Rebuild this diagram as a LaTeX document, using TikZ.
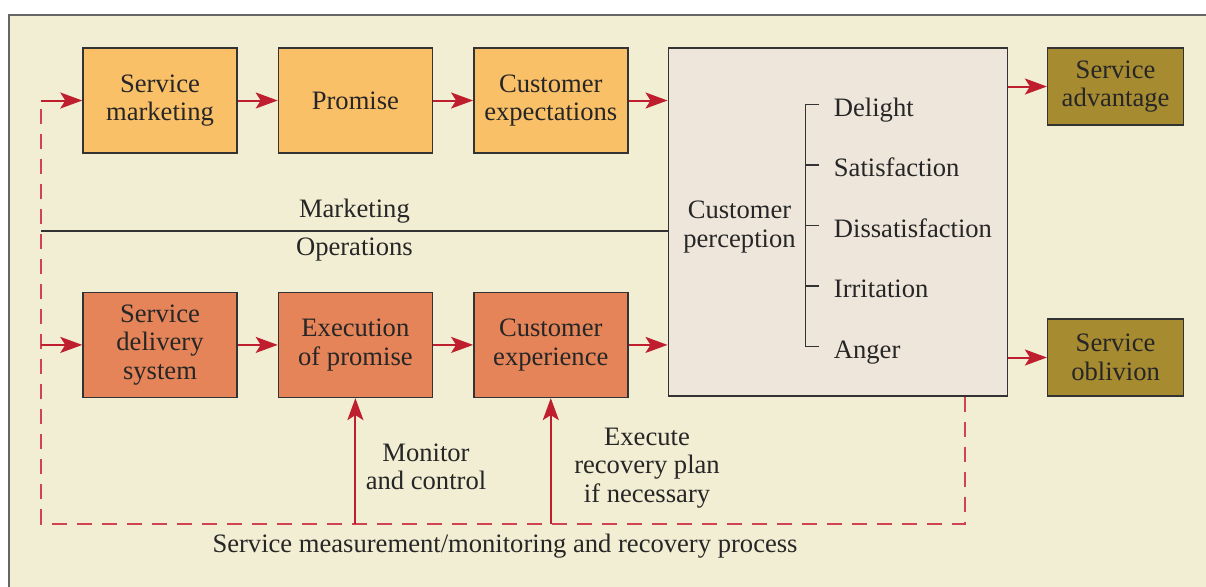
\documentclass[tikz,border=0pt]{standalone}
\usepackage{fontspec}
\setmainfont{Liberation Serif}
\usetikzlibrary{arrows.meta,positioning,calc}
\definecolor{SMCream}{HTML}{F2EED3}
\definecolor{SMFrame}{HTML}{666666}
\definecolor{SMEdge}{HTML}{333333}
\definecolor{SMAmber}{HTML}{FAC068}
\definecolor{SMCoral}{HTML}{E48458}
\definecolor{SMLinen}{HTML}{EEE6DA}
\definecolor{SMOlive}{HTML}{A68B30}
\definecolor{SMRed}{HTML}{BE1E2D}
\definecolor{SMDash}{HTML}{CF4450}

\begin{document}
\begin{tikzpicture}[
  x=0.5pt,y=-0.5pt,
  node distance=69pt and 20pt,
  font=\fontsize{13.3}{14.2}\selectfont,
  every node/.style={align=center,text=black!85},
  stage/.style={draw=SMEdge,line width=0.7pt,minimum width=77pt,
    minimum height=52.5pt,inner sep=2pt},
  front/.style={stage,fill=SMAmber},
  back/.style={stage,fill=SMCoral},
  result/.style={stage,fill=SMOlive,minimum width=68pt,minimum height=38.5pt},
  feel/.style={anchor=west,inner xsep=0pt,text height=15pt,text depth=3pt},
  rack/.style={draw=SMEdge,line width=0.7pt},
  flow/.style={-{Stealth[length=11pt,width=8pt,inset=2.5pt]},line width=1pt,SMRed},
  loop/.style={dash pattern=on 7.5pt off 5pt,line width=1pt,SMDash}
]
\fill[white] (0,0) rectangle (1206,586);
\useasboundingbox (0,0) rectangle (1206,586);
\draw[fill=SMCream,draw=SMFrame,line width=1pt] (9,15) rectangle (1230,610);

\node[front] (mkt) at (160,100.5) {Service\\marketing};
\node[front,right=of mkt] (prom) {Promise};
\node[front,right=of prom] (exp) {Customer\\expectations};
\node[back,below=of mkt] (dlv) {Service\\delivery\\system};
\node[back,right=of dlv] (exec) {Execution\\of promise};
\node[back,right=of exec] (live) {Customer\\experience};

\node[draw=SMEdge,line width=0.7pt,fill=SMLinen,minimum width=169.5pt,
  minimum height=174pt,right=19.5pt of exp.north east,anchor=north west] (perc) {};
\node (cpt) at ([xshift=36pt,yshift=-2.5pt]perc.west) {Customer\\perception};
\foreach \f [count=\i] in {Delight,Satisfaction,Dissatisfaction,Irritation,Anger}
  \node[feel] (f\i) at ([xshift=83pt,yshift={-28.5pt-(\i-1)*30.25pt}]perc.north west) {\f};
\draw[rack] ([xshift=-7.5pt]f1.west) -| ([xshift=-14pt]f5.west)
  -- ([xshift=-7.5pt]f5.west);
\foreach \i in {2,3,4}
  \draw[rack] ([xshift=-14pt]f\i.west) -- ([xshift=-7.5pt]f\i.west);

\node[result,right=19.5pt of perc.north east,anchor=north west] (adv) {Service\\advantage};
\node[result,right=19.5pt of perc.south east,anchor=south west] (obl) {Service\\oblivion};

% forward flow
\draw[flow] (mkt) -- (prom);
\draw[flow] (prom) -- (exp);
\draw[flow] (exp) -- (exp -| perc.west);
\draw[flow] (dlv) -- (exec);
\draw[flow] (exec) -- (live);
\draw[flow] (live) -- (live -| perc.west);
\draw[flow] (perc.east |- adv) -- (adv);
\draw[flow] (perc.east |- obl) -- (obl);

% marketing / operations split
\coordinate (inA) at ([xshift=-20.5pt]mkt.west);
\coordinate (inB) at (inA |- dlv);
\coordinate (split) at ($(mkt.south)!0.56!(dlv.north)$);
\draw[rack] (inA |- split) -- node[above] (mkg) {Marketing}
  node[below] (ops) {Operations} (perc.west |- split);

% measurement and recovery loop
\coordinate (tap) at ([xshift=-21.5pt]perc.south east);
\coordinate (base) at ([yshift=-63.5pt]perc.south);
\draw[loop] (tap) -- (tap |- base) -- (inA |- base) -- (inA);
\draw[flow] (inA) -- (mkt);
\draw[flow] (inB) -- (dlv);
\draw[flow] (exec |- base) -- (exec);
\draw[flow] (live |- base) -- (live);

\node (watch) at (426,467) {Monitor\\and control};
\node (fix) at (647,468) {Execute\\recovery plan\\if necessary};
\node (loopname) at (505,546) {Service measurement/monitoring and recovery process};
\end{tikzpicture}
\end{document}
